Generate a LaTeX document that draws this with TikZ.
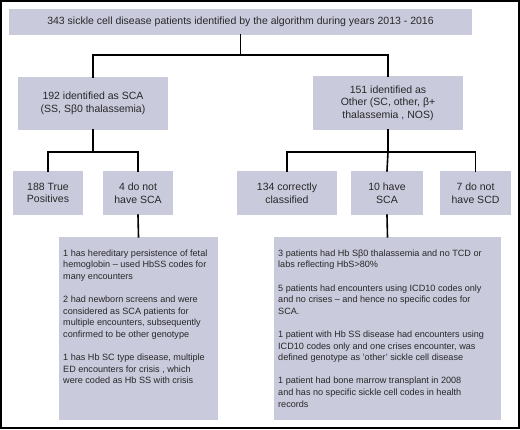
\documentclass[tikz,border=0pt]{standalone}
\usepackage{fontspec}
\setmainfont{Liberation Sans}
\definecolor{boxfill}{RGB}{201,202,220}
\definecolor{txt}{RGB}{40,40,40}
\begin{document}
\begin{tikzpicture}[x=1pt,y=-1pt,
  box/.style={fill=boxfill, draw=none, inner sep=0pt, text=txt, align=center,
    font=\fontsize{10.5}{12.5}\selectfont},
  detail/.style={inner sep=0pt, text=txt, align=left,
    font=\fontsize{9.1}{11.6}\selectfont},
  conn/.style={line width=1.6pt, black, line cap=rect}]
\useasboundingbox (0,0) rectangle (520,429);
\draw[line width=2pt] (1,1) rectangle (519,428);
% boxes
\node[box, minimum width=463pt, minimum height=26pt] (top) at (240.5,22)
  {343 sickle cell disease patients identified by the algorithm during years 2013 - 2016};
\node[box, minimum width=150pt, minimum height=53pt] (sca) at (93,103.5)
  {192 identified as SCA\\(SS, Sβ0 thalassemia)};
\node[box, minimum width=150pt, minimum height=54pt] (oth) at (388,103)
  {151 identified as\\Other (SC, other, β+\\thalassemia , NOS)};
\node[box, minimum width=70pt, minimum height=44pt] (tp) at (48,193)
  {188 True\\Positives};
\node[box, minimum width=70pt, minimum height=44pt] (nsca) at (138,193)
  {4 do not\\have SCA};
\node[box, minimum width=100pt, minimum height=44pt] (cc) at (287,193)
  {134 correctly\\classified};
\node[box, minimum width=72pt, minimum height=44pt] (hs) at (387,193)
  {10 have\\SCA};
\node[box, minimum width=71pt, minimum height=44pt] (nscd) at (475.5,193)
  {7 do not\\have SCD};
\node[box, minimum width=159pt, minimum height=183pt] (lb) at (138.5,328.5) {};
\node[box, minimum width=227pt, minimum height=183pt] (rb) at (387.5,328.5) {};
\node[detail, anchor=north west] (lbt) at (63,249.5)
  {1 has hereditary persistence of fetal\\
   hemoglobin – used HbSS codes for\\
   many encounters\\[11.6pt]
   2 had newborn screens and were\\
   considered as SCA patients for\\
   multiple encounters, subsequently\\
   confirmed to be other genotype\\[11.6pt]
   1 has Hb SC type disease, multiple\\
   ED encounters for crisis , which\\
   were coded as Hb SS with crisis};
\node[detail, anchor=north west] (rbt) at (278,249.5)
  {3 patients had Hb Sβ0 thalassemia and no TCD or\\
   labs reflecting HbS>80\%\\[11.6pt]
   5 patients had encounters using ICD10 codes only\\
   and no crises – and hence no specific codes for\\
   SCA.\\[11.6pt]
   1 patient with Hb SS disease had encounters using\\
   ICD10 codes only and one crises encounter, was\\
   defined genotype as 'other' sickle cell disease\\[11.6pt]
   1 patient had bone marrow transplant in 2008\\
   and has no specific sickle cell codes in health\\
   records};
% connectors
\draw[conn] (top.south) -- ++(0,20) coordinate (j1);
\draw[conn] (sca.north) |- (j1) -| (oth.north);
\draw[conn] (sca.south) -- ++(0,22) coordinate (j2);
\draw[conn] (tp.north) |- (j2) -| (nsca.north);
\draw[conn] (oth.south) -- ++(0,22) coordinate (j3);
\draw[conn] (cc.north) |- (j3) -| (nscd.north);
\draw[conn] (j3) -- (hs.north);
\draw[conn] (nsca.south) -- (lb.north);
\draw[conn] (hs.south) -- (rb.north);
\end{tikzpicture}
\end{document}
